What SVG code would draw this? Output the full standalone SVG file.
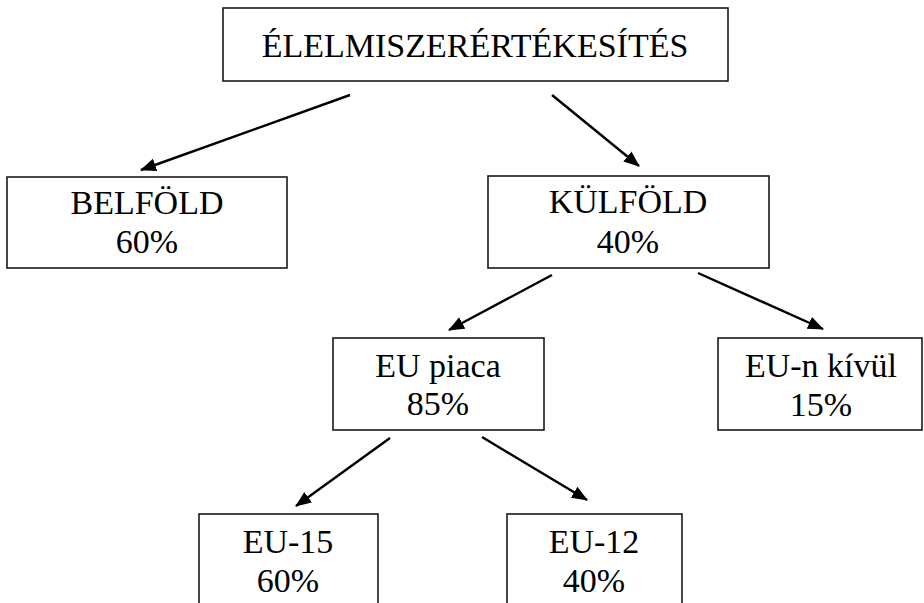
<svg xmlns="http://www.w3.org/2000/svg" width="924" height="603" viewBox="0 0 924 603">
  <style>
    .box { fill: #ffffff; stroke: #1a1a1a; stroke-width: 1.6; }
    .lbl { font-family: 'Liberation Serif', 'Times New Roman', serif; font-size: 34px; fill: #000000; text-anchor: middle; }
    .conn { stroke: #000000; stroke-width: 2.4; fill: none; marker-end: url(#arrow); }
  </style>
  <defs>
    <marker id="arrow" markerUnits="userSpaceOnUse" markerWidth="20" markerHeight="16" refX="15" refY="6.5" orient="auto">
      <path d="M0,0 L16,6.5 L0,13 z" fill="#000000"/>
    </marker>
  </defs>
  <rect width="924" height="603" fill="#ffffff"/>

  <g id="connectors">
    <line class="conn" x1="350" y1="95" x2="141" y2="170"/>
    <line class="conn" x1="552" y1="95" x2="639" y2="166"/>
    <line class="conn" x1="552" y1="275" x2="449" y2="330"/>
    <line class="conn" x1="698" y1="273" x2="823" y2="329"/>
    <line class="conn" x1="390" y1="438" x2="296" y2="506"/>
    <line class="conn" x1="482" y1="437" x2="587" y2="500"/>
  </g>

  <g id="node-root">
    <rect class="box" x="223" y="8" width="505" height="73"/>
    <text class="lbl" x="475" y="57">ÉLELMISZERÉRTÉKESÍTÉS</text>
  </g>

  <g id="node-belfold">
    <rect class="box" x="7" y="177" width="280" height="91"/>
    <text class="lbl" x="147" y="214">BELFÖLD</text>
    <text class="lbl" x="147" y="253">60%</text>
  </g>

  <g id="node-kulfold">
    <rect class="box" x="488" y="176" width="281" height="92"/>
    <text class="lbl" x="628" y="213">KÜLFÖLD</text>
    <text class="lbl" x="628" y="253">40%</text>
  </g>

  <g id="node-eu-piaca">
    <rect class="box" x="333" y="338" width="211" height="92"/>
    <text class="lbl" x="438" y="377">EU piaca</text>
    <text class="lbl" x="438" y="415">85%</text>
  </g>

  <g id="node-eu-kivul">
    <rect class="box" x="718" y="338" width="204" height="92"/>
    <text class="lbl" x="821" y="377">EU-n kívül</text>
    <text class="lbl" x="821" y="416">15%</text>
  </g>

  <g id="node-eu15">
    <rect class="box" x="199" y="514" width="179" height="100"/>
    <text class="lbl" x="288" y="553">EU-15</text>
    <text class="lbl" x="288" y="592">60%</text>
  </g>

  <g id="node-eu12">
    <rect class="box" x="507" y="514" width="175" height="100"/>
    <text class="lbl" x="594" y="553">EU-12</text>
    <text class="lbl" x="594" y="592">40%</text>
  </g>
</svg>
